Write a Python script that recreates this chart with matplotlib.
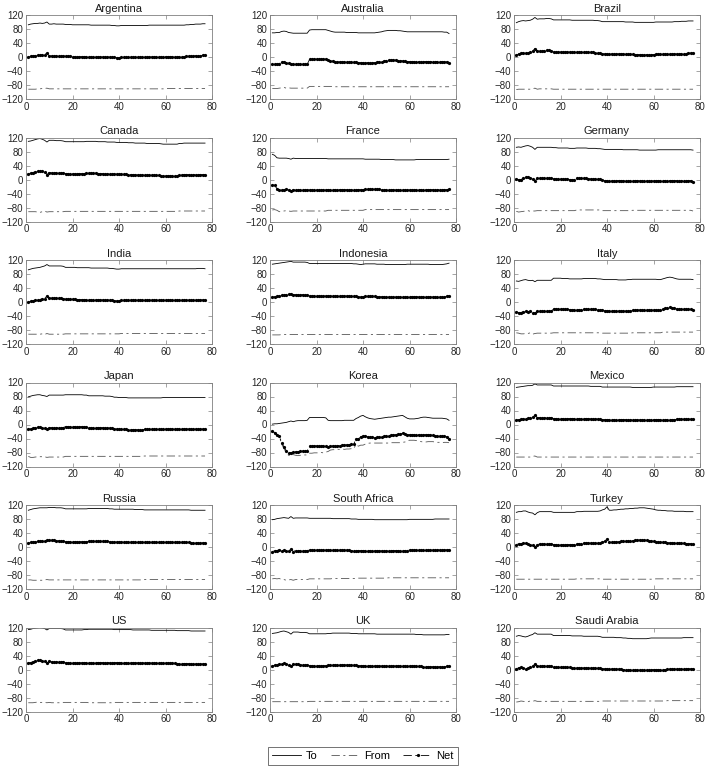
import numpy as np
import matplotlib
matplotlib.use("Agg")
import matplotlib.pyplot as plt
from matplotlib.lines import Line2D

plt.rcParams['font.family'] = ['Liberation Sans', 'DejaVu Sans']
plt.rcParams['lines.scale_dashes'] = False

countries = ["Argentina", "Australia", "Brazil", "Canada", "France", "Germany",
             "India", "Indonesia", "Italy", "Japan", "Korea", "Mexico",
             "Russia", "South Africa", "Turkey", "US", "UK", "Saudi Arabia"]
series_labels = ["To", "From", "Net"]
x_ticks = [0, 20, 40, 60, 80]
y_ticks = [-120, -80, -40, 0, 40, 80, 120]

# ---- data: "To" and "From" connectedness per period (Net = To + From) ----
ARG_TO = [92, 94, 95, 96, 96, 97, 96, 97, 100, 94,
          94, 95, 94, 94, 94, 94, 93, 93, 93, 92,
          92, 92, 92, 92, 92, 92, 92, 91, 91, 91,
          91, 91, 91, 91, 91, 91, 90, 90, 89, 89,
          90, 90, 90, 90, 90, 90, 90, 90, 90, 90,
          90, 90, 91, 91, 91, 91, 91, 91, 91, 91,
          91, 91, 91, 91, 91, 91, 91, 91, 92, 92,
          93, 93, 94, 94, 94, 95, 95]
ARG_FROM = [-92, -92, -92, -92, -91, -91, -90, -90, -89, -91,
            -91, -91, -91, -91, -91, -91, -91, -91, -91, -91,
            -91, -91, -91, -91, -91, -91, -91, -91, -91, -91,
            -91, -91, -91, -91, -91, -91, -91, -91, -91, -91,
            -91, -91, -91, -91, -91, -91, -91, -91, -91, -91,
            -91, -91, -91, -91, -91, -91, -91, -91, -91, -90,
            -90, -90, -90, -90, -90, -90, -90, -90, -90, -90,
            -90, -90, -90, -90, -90, -90, -90]

AUS_TO = [69, 69, 70, 70, 73, 74, 73, 70, 69, 68,
          68, 68, 68, 68, 68, 68, 77, 78, 78, 78,
          78, 78, 78, 78, 76, 74, 72, 71, 71, 71,
          71, 71, 70, 70, 70, 70, 70, 69, 69, 69,
          69, 69, 69, 69, 69, 70, 71, 72, 74, 75,
          76, 76, 76, 76, 75, 75, 74, 73, 72, 72,
          72, 72, 72, 72, 72, 72, 72, 72, 72, 72,
          72, 72, 72, 72, 71, 71, 67]
AUS_FROM = [-90, -90, -90, -89, -88, -87, -89, -88, -89, -89,
            -89, -89, -89, -89, -89, -89, -84, -84, -84, -84,
            -84, -84, -84, -84, -84, -84, -84, -85, -85, -85,
            -85, -85, -85, -85, -85, -85, -85, -85, -85, -85,
            -85, -85, -85, -85, -85, -85, -85, -85, -85, -85,
            -85, -85, -85, -85, -85, -85, -85, -85, -85, -85,
            -85, -85, -85, -85, -85, -85, -85, -85, -85, -85,
            -85, -85, -85, -85, -85, -85, -85]

BRA_TO = [98, 101, 103, 104, 103, 104, 105, 108, 113, 108,
          109, 109, 109, 110, 110, 109, 106, 106, 106, 106,
          106, 106, 106, 106, 105, 105, 105, 105, 105, 105,
          105, 105, 105, 105, 104, 104, 103, 101, 101, 101,
          101, 101, 101, 101, 101, 101, 101, 100, 100, 100,
          100, 99, 99, 99, 99, 99, 99, 99, 99, 99,
          100, 100, 100, 100, 100, 100, 100, 100, 101, 101,
          101, 102, 102, 102, 103, 103, 103]
BRA_FROM = [-93, -92, -92, -92, -92, -92, -92, -91, -89, -92,
            -91, -91, -91, -91, -91, -91, -92, -92, -92, -92,
            -92, -92, -92, -92, -92, -92, -92, -92, -92, -92,
            -92, -92, -92, -92, -92, -92, -92, -92, -92, -92,
            -92, -92, -92, -92, -92, -92, -92, -92, -92, -92,
            -92, -92, -92, -92, -92, -92, -92, -92, -92, -92,
            -92, -92, -92, -92, -92, -92, -92, -92, -92, -92,
            -92, -92, -92, -92, -92, -92, -92]

CAN_TO = [109, 110, 112, 114, 116, 117, 115, 112, 107, 112,
          112, 112, 111, 111, 111, 110, 108, 108, 108, 108,
          108, 108, 108, 108, 108, 109, 109, 109, 109, 109,
          108, 108, 108, 108, 107, 107, 107, 107, 106, 106,
          106, 106, 106, 105, 105, 105, 104, 104, 104, 104,
          104, 103, 103, 103, 103, 103, 103, 102, 101, 101,
          101, 101, 101, 101, 101, 103, 103, 104, 104, 104,
          104, 104, 104, 104, 104, 104, 104]
CAN_FROM = [-92, -92, -92, -92, -93, -94, -92, -90, -93, -92,
            -92, -92, -92, -92, -92, -92, -91, -91, -91, -91,
            -91, -91, -91, -91, -91, -91, -91, -91, -91, -91,
            -91, -91, -91, -91, -91, -91, -91, -91, -91, -91,
            -91, -91, -91, -91, -91, -91, -91, -91, -91, -91,
            -91, -91, -91, -91, -91, -91, -91, -91, -91, -91,
            -91, -91, -91, -91, -91, -90, -90, -90, -90, -90,
            -90, -90, -90, -90, -90, -90, -90]

FRA_TO = [72, 69, 62, 61, 61, 61, 61, 60, 58, 61,
          60, 60, 60, 60, 60, 60, 60, 60, 60, 60,
          60, 60, 60, 60, 59, 59, 59, 59, 59, 59,
          59, 59, 59, 59, 59, 59, 59, 59, 59, 59,
          58, 58, 58, 58, 58, 58, 58, 57, 57, 57,
          57, 57, 57, 56, 56, 56, 56, 56, 56, 56,
          56, 56, 57, 57, 57, 57, 57, 57, 57, 57,
          57, 57, 57, 57, 57, 57, 58]
FRA_FROM = [-87, -86, -88, -92, -91, -90, -89, -90, -91, -90,
            -90, -90, -90, -90, -90, -90, -90, -90, -90, -90,
            -90, -90, -90, -90, -88, -88, -88, -88, -88, -88,
            -88, -88, -88, -88, -88, -88, -88, -88, -88, -88,
            -86, -86, -86, -86, -86, -86, -86, -86, -86, -86,
            -86, -86, -86, -86, -86, -86, -86, -86, -86, -86,
            -86, -86, -86, -86, -86, -86, -86, -86, -86, -86,
            -86, -86, -86, -86, -86, -86, -86]

GER_TO = [92, 93, 92, 94, 96, 97, 95, 92, 86, 92,
          92, 92, 92, 92, 92, 92, 91, 91, 90, 90,
          90, 90, 90, 89, 89, 89, 90, 90, 90, 90,
          90, 89, 89, 89, 89, 88, 88, 87, 86, 86,
          86, 86, 86, 86, 86, 86, 85, 85, 85, 85,
          85, 85, 85, 84, 84, 84, 84, 84, 84, 84,
          84, 85, 85, 85, 85, 85, 85, 85, 85, 85,
          85, 85, 85, 85, 85, 85, 84]
GER_FROM = [-91, -93, -92, -91, -90, -89, -91, -90, -90, -89,
            -89, -89, -89, -89, -89, -89, -89, -89, -89, -89,
            -89, -89, -89, -89, -89, -89, -87, -87, -87, -87,
            -87, -87, -87, -87, -87, -87, -87, -89, -89, -89,
            -89, -89, -89, -89, -89, -89, -89, -89, -89, -89,
            -88, -88, -88, -88, -88, -88, -88, -88, -88, -88,
            -88, -88, -88, -88, -88, -88, -88, -88, -88, -88,
            -88, -88, -88, -88, -88, -88, -90]

IND_TO = [92, 94, 96, 97, 98, 99, 101, 103, 107, 103,
          103, 103, 103, 103, 103, 102, 99, 99, 99, 99,
          99, 98, 98, 98, 98, 98, 98, 97, 97, 97,
          97, 97, 97, 97, 97, 96, 96, 95, 94, 94,
          95, 95, 95, 95, 95, 95, 95, 95, 95, 95,
          95, 95, 95, 95, 95, 95, 95, 95, 95, 95,
          95, 95, 95, 95, 95, 95, 95, 95, 95, 95,
          95, 95, 95, 96, 96, 96, 95]
IND_FROM = [-92, -92, -92, -92, -92, -92, -91, -93, -90, -92,
            -92, -92, -92, -92, -92, -92, -91, -91, -91, -91,
            -91, -91, -91, -91, -91, -91, -91, -91, -91, -91,
            -91, -91, -91, -91, -91, -91, -91, -91, -91, -91,
            -90, -90, -90, -90, -90, -90, -90, -90, -90, -90,
            -90, -90, -90, -90, -90, -90, -90, -90, -90, -90,
            -90, -90, -90, -90, -90, -90, -90, -90, -90, -90,
            -90, -90, -90, -90, -90, -90, -90]

IDN_TO = [108, 109, 110, 111, 112, 113, 114, 115, 116, 114,
          114, 114, 114, 114, 114, 113, 110, 110, 110, 110,
          110, 110, 110, 110, 110, 110, 110, 110, 110, 110,
          110, 110, 110, 110, 110, 109, 109, 108, 107, 108,
          109, 109, 109, 109, 109, 108, 108, 108, 108, 107,
          107, 107, 107, 107, 107, 107, 107, 107, 108, 108,
          108, 108, 108, 108, 108, 108, 108, 108, 107, 107,
          107, 107, 107, 107, 108, 109, 111]
IDN_FROM = [-94, -94, -94, -94, -93, -93, -93, -93, -93, -93,
            -93, -93, -93, -93, -93, -93, -93, -93, -93, -93,
            -93, -93, -93, -93, -93, -93, -93, -93, -93, -93,
            -93, -93, -93, -93, -93, -93, -93, -93, -93, -93,
            -93, -93, -93, -93, -93, -93, -93, -93, -93, -93,
            -93, -93, -93, -93, -93, -93, -93, -93, -93, -93,
            -93, -93, -93, -93, -93, -93, -93, -93, -93, -93,
            -93, -93, -93, -93, -93, -93, -93]

ITA_TO = [60, 59, 61, 63, 64, 62, 61, 62, 58, 62,
          62, 62, 62, 62, 62, 62, 68, 68, 68, 68,
          67, 67, 67, 66, 66, 66, 66, 66, 66, 67,
          67, 67, 67, 67, 67, 66, 66, 65, 64, 64,
          64, 64, 64, 64, 63, 63, 63, 63, 64, 64,
          65, 65, 65, 65, 65, 65, 65, 65, 65, 65,
          65, 64, 64, 66, 68, 70, 71, 70, 68, 66,
          65, 65, 65, 65, 65, 65, 64]
ITA_FROM = [-88, -89, -91, -91, -90, -90, -88, -92, -90, -89,
            -89, -89, -89, -89, -89, -89, -88, -88, -88, -88,
            -88, -88, -88, -88, -88, -88, -88, -88, -88, -88,
            -88, -88, -88, -88, -88, -88, -88, -89, -89, -89,
            -89, -89, -89, -89, -89, -89, -89, -89, -89, -89,
            -88, -88, -88, -88, -88, -88, -88, -88, -88, -88,
            -88, -88, -88, -86, -86, -86, -86, -86, -86, -86,
            -86, -86, -86, -86, -86, -86, -86]

JPN_TO = [79, 81, 83, 84, 85, 85, 83, 82, 80, 84,
          84, 84, 84, 84, 84, 84, 85, 85, 85, 85,
          85, 85, 85, 85, 84, 84, 82, 82, 82, 82,
          82, 82, 82, 81, 81, 81, 80, 78, 78, 77,
          77, 77, 77, 76, 76, 76, 76, 76, 76, 76,
          76, 76, 76, 76, 76, 76, 76, 76, 77, 77,
          77, 77, 77, 77, 77, 77, 77, 77, 77, 77,
          77, 77, 77, 77, 77, 77, 77]
JPN_FROM = [-91, -94, -94, -93, -92, -92, -92, -92, -94, -93,
            -93, -93, -93, -93, -93, -93, -91, -91, -91, -91,
            -91, -91, -91, -91, -91, -91, -91, -91, -91, -91,
            -91, -91, -91, -91, -91, -91, -91, -91, -91, -91,
            -91, -91, -91, -91, -91, -91, -91, -91, -91, -91,
            -90, -90, -90, -90, -90, -90, -90, -90, -90, -90,
            -90, -90, -90, -90, -90, -90, -90, -90, -90, -90,
            -90, -90, -90, -90, -90, -90, -90]

KOR_TO = [1, 2, 2, 3, 4, 5, 6, 8, 10, 8,
          10, 11, 11, 11, 11, 12, 20, 20, 20, 20,
          20, 20, 20, 19, 12, 11, 11, 11, 11, 11,
          11, 12, 12, 12, 12, 12, 17, 20, 24, 26,
          22, 19, 17, 16, 15, 16, 17, 18, 19, 20,
          21, 21, 22, 23, 24, 25, 26, 22, 18, 16,
          16, 16, 17, 18, 20, 21, 21, 20, 19, 18,
          18, 18, 18, 18, 17, 16, 12]
KOR_FROM = [-19, -25, -33, -35, -56, -69, -81, -88, -90, -86,
            -88, -89, -88, -87, -87, -87, -82, -82, -81, -81,
            -81, -80, -81, -79, -77, -73, -72, -72, -71, -71,
            -70, -71, -70, -70, -69, -69, -57, -62, -59, -59,
            -56, -54, -53, -53, -53, -53, -53, -53, -53, -53,
            -53, -52, -52, -52, -52, -52, -51, -50, -47, -45,
            -45, -45, -46, -47, -49, -50, -50, -49, -49, -49,
            -50, -51, -51, -52, -51, -51, -52]

MEX_TO = [106, 107, 108, 109, 110, 111, 111, 112, 116, 113,
          113, 113, 113, 113, 113, 113, 110, 110, 110, 110,
          110, 110, 110, 110, 110, 110, 110, 110, 110, 110,
          110, 110, 109, 109, 109, 109, 109, 107, 107, 107,
          107, 107, 107, 107, 107, 107, 107, 107, 107, 107,
          106, 106, 106, 106, 106, 106, 106, 106, 106, 107,
          107, 107, 107, 107, 107, 107, 107, 107, 107, 108,
          108, 108, 108, 108, 108, 108, 108]
MEX_FROM = [-93, -93, -93, -93, -93, -93, -93, -91, -90, -93,
            -93, -93, -93, -93, -93, -93, -93, -93, -93, -93,
            -93, -93, -93, -93, -93, -93, -93, -93, -93, -93,
            -93, -93, -93, -93, -93, -93, -93, -93, -93, -93,
            -93, -93, -93, -93, -93, -93, -93, -93, -93, -93,
            -93, -93, -93, -93, -93, -93, -93, -93, -93, -93,
            -93, -93, -93, -93, -93, -93, -93, -93, -93, -93,
            -93, -93, -93, -93, -93, -93, -93]

RUS_TO = [105, 107, 109, 110, 111, 112, 112, 112, 112, 113,
          113, 113, 112, 112, 112, 111, 109, 109, 109, 109,
          109, 109, 109, 109, 109, 109, 110, 110, 110, 110,
          110, 110, 110, 110, 110, 109, 109, 108, 108, 108,
          108, 108, 108, 108, 108, 108, 107, 107, 107, 107,
          106, 106, 106, 106, 106, 106, 106, 106, 106, 106,
          106, 106, 106, 106, 106, 106, 106, 106, 106, 106,
          105, 105, 105, 105, 105, 105, 105]
RUS_FROM = [-94, -94, -95, -95, -95, -95, -95, -94, -93, -94,
            -94, -94, -94, -94, -94, -94, -94, -94, -94, -94,
            -94, -94, -94, -94, -94, -94, -94, -94, -94, -94,
            -94, -94, -94, -94, -94, -94, -94, -94, -94, -94,
            -94, -94, -94, -94, -94, -94, -94, -94, -94, -94,
            -93, -93, -93, -93, -93, -93, -93, -93, -93, -93,
            -93, -93, -93, -93, -93, -93, -93, -93, -93, -93,
            -93, -93, -93, -93, -93, -93, -93]

ZAF_TO = [78, 79, 81, 82, 83, 84, 83, 82, 87, 82,
          83, 83, 83, 83, 83, 83, 82, 82, 82, 82,
          82, 82, 82, 82, 82, 82, 81, 81, 81, 81,
          81, 81, 81, 81, 80, 80, 80, 79, 79, 79,
          79, 79, 79, 79, 78, 78, 78, 78, 78, 78,
          78, 78, 78, 78, 78, 78, 78, 78, 78, 79,
          79, 79, 79, 79, 79, 79, 79, 79, 79, 79,
          80, 80, 80, 80, 80, 80, 80]
ZAF_FROM = [-91, -90, -91, -90, -93, -93, -95, -94, -93, -95,
            -93, -93, -93, -93, -93, -93, -91, -91, -91, -91,
            -91, -91, -91, -91, -91, -91, -90, -90, -90, -90,
            -90, -90, -90, -90, -90, -90, -90, -89, -89, -89,
            -89, -89, -89, -89, -89, -89, -89, -89, -89, -89,
            -88, -88, -88, -88, -88, -88, -88, -88, -88, -88,
            -88, -88, -88, -88, -88, -88, -88, -88, -88, -88,
            -88, -88, -88, -88, -88, -88, -88]

TUR_TO = [99, 101, 101, 103, 103, 100, 98, 97, 92, 98,
          101, 101, 101, 101, 101, 101, 99, 99, 99, 99,
          99, 99, 99, 99, 99, 99, 101, 101, 101, 102,
          102, 102, 102, 102, 102, 102, 103, 106, 108, 115,
          105, 105, 106, 106, 107, 108, 108, 109, 109, 110,
          110, 111, 111, 112, 112, 112, 111, 110, 109, 108,
          106, 105, 105, 104, 104, 103, 103, 103, 102, 102,
          102, 102, 102, 101, 101, 101, 101]
TUR_FROM = [-92, -92, -92, -92, -92, -92, -92, -92, -92, -92,
            -92, -92, -92, -92, -92, -92, -92, -92, -92, -92,
            -92, -92, -92, -92, -92, -92, -91, -91, -91, -91,
            -91, -91, -91, -91, -91, -91, -91, -92, -92, -92,
            -92, -92, -92, -92, -92, -92, -92, -92, -92, -92,
            -92, -92, -92, -92, -92, -92, -92, -92, -92, -92,
            -91, -91, -91, -91, -91, -91, -91, -91, -91, -91,
            -91, -91, -91, -91, -91, -91, -91]

USA_TO = [114, 115, 117, 118, 119, 120, 119, 117, 113, 117,
          117, 117, 117, 117, 117, 116, 113, 113, 113, 113,
          113, 113, 113, 113, 114, 114, 115, 115, 115, 115,
          115, 115, 115, 115, 115, 115, 115, 114, 114, 114,
          114, 114, 114, 114, 114, 113, 113, 113, 113, 113,
          113, 113, 113, 112, 112, 112, 112, 112, 112, 112,
          112, 112, 112, 112, 111, 111, 111, 111, 111, 111,
          110, 110, 110, 110, 110, 110, 110]
USA_FROM = [-95, -95, -95, -94, -93, -94, -94, -94, -95, -94,
            -95, -95, -95, -95, -95, -94, -94, -94, -94, -94,
            -94, -94, -94, -94, -94, -94, -95, -95, -95, -95,
            -95, -95, -95, -95, -95, -95, -95, -94, -94, -94,
            -94, -94, -94, -94, -94, -94, -94, -94, -94, -94,
            -94, -94, -94, -94, -94, -94, -94, -94, -94, -94,
            -94, -94, -94, -94, -94, -94, -94, -94, -94, -94,
            -94, -94, -94, -94, -94, -94, -94]

GBR_TO = [103, 104, 105, 107, 109, 110, 108, 106, 101, 107,
          107, 107, 106, 106, 106, 105, 102, 102, 102, 102,
          102, 102, 102, 102, 103, 103, 104, 104, 104, 104,
          104, 104, 104, 104, 103, 103, 103, 102, 102, 102,
          102, 102, 102, 102, 102, 101, 101, 101, 101, 101,
          101, 101, 101, 101, 101, 101, 101, 101, 101, 101,
          101, 101, 100, 100, 100, 99, 99, 99, 99, 99,
          99, 99, 99, 99, 99, 100, 100]
GBR_FROM = [-92, -92, -92, -92, -92, -92, -92, -92, -92, -92,
            -92, -92, -92, -92, -92, -92, -91, -91, -91, -91,
            -91, -91, -91, -91, -91, -91, -91, -91, -91, -91,
            -91, -91, -91, -91, -91, -91, -91, -91, -91, -91,
            -91, -91, -91, -91, -91, -91, -91, -91, -91, -91,
            -91, -91, -91, -91, -91, -91, -91, -91, -91, -91,
            -91, -91, -91, -91, -91, -91, -91, -91, -91, -91,
            -91, -91, -91, -91, -91, -91, -91]

SAU_TO = [95, 97, 96, 94, 93, 95, 98, 100, 105, 101,
          101, 101, 101, 101, 101, 101, 97, 97, 97, 97,
          97, 97, 97, 97, 96, 96, 96, 96, 96, 95,
          95, 95, 95, 95, 95, 95, 94, 92, 92, 92,
          92, 92, 92, 91, 91, 91, 90, 90, 89, 89,
          88, 88, 88, 88, 88, 88, 88, 89, 90, 90,
          90, 90, 90, 90, 90, 90, 90, 90, 90, 90,
          90, 90, 91, 91, 91, 91, 91]
SAU_FROM = [-93, -92, -90, -91, -92, -92, -90, -91, -89, -91,
            -91, -91, -91, -91, -91, -91, -91, -91, -91, -91,
            -91, -91, -91, -91, -91, -91, -91, -91, -91, -91,
            -91, -91, -91, -91, -91, -91, -91, -90, -90, -90,
            -90, -90, -90, -90, -90, -90, -90, -90, -90, -90,
            -90, -90, -90, -90, -90, -90, -90, -90, -90, -90,
            -90, -90, -90, -90, -90, -89, -89, -89, -89, -89,
            -89, -89, -89, -89, -89, -89, -89]

to_series = [ARG_TO, AUS_TO, BRA_TO, CAN_TO, FRA_TO, GER_TO, IND_TO, IDN_TO, ITA_TO,
             JPN_TO, KOR_TO, MEX_TO, RUS_TO, ZAF_TO, TUR_TO, USA_TO, GBR_TO, SAU_TO]
from_series = [ARG_FROM, AUS_FROM, BRA_FROM, CAN_FROM, FRA_FROM, GER_FROM, IND_FROM,
               IDN_FROM, ITA_FROM, JPN_FROM, KOR_FROM, MEX_FROM, RUS_FROM, ZAF_FROM,
               TUR_FROM, USA_FROM, GBR_FROM, SAU_FROM]

# ---- layout ----
W, H = 708, 767
fig = plt.figure(figsize=(W / 100, H / 100), dpi=100)
lefts = [26, 270, 514]
aw, ah = 186, 84
tops = [15 + 122.5 * r for r in range(6)]

DASHDOT = (0, (6, 2.5, 1.5, 2.5))
to_style = dict(color='black', lw=0.6, ls='-')
from_style = dict(color='#555555', lw=0.6, ls=DASHDOT)
net_style = dict(color='black', lw=0.6, ls=DASHDOT, marker='.', ms=2.6)

for i, name in enumerate(countries):
    r, c = divmod(i, 3)
    ax = fig.add_axes([lefts[c] / W, 1 - (tops[r] + ah) / H, aw / W, ah / H])
    to = np.array(to_series[i], dtype=float)
    fr = np.array(from_series[i], dtype=float)
    net = to + fr
    t = np.arange(1, len(to) + 1)
    ax.plot(t, to, **to_style)
    ax.plot(t, fr, **from_style)
    ax.plot(t, net, **net_style)
    ax.set_xlim(0, 80)
    ax.set_ylim(-120, 120)
    ax.set_xticks(x_ticks)
    ax.set_yticks(y_ticks)
    ax.tick_params(direction='in', length=3, width=0.5, top=True, right=True,
                   labelsize=7, color='#808080', labelcolor='#262626', pad=2)
    for s in ax.spines.values():
        s.set_color('#808080')
        s.set_linewidth(0.6)
    ax.set_title(name, fontsize=8, pad=2.5, color='#1a1a1a')

handles = [Line2D([], [], **to_style), Line2D([], [], **from_style),
           Line2D([], [], **net_style)]
leg = fig.legend(handles, series_labels, loc='center', ncol=3,
                 bbox_to_anchor=(363 / W, 1 - 756 / H), fontsize=8,
                 frameon=True, fancybox=False, edgecolor='#333333',
                 handlelength=2.6, handletextpad=0.4, columnspacing=1.2,
                 borderpad=0.4, numpoints=1)
leg.get_frame().set_linewidth(0.6)

fig.savefig("out.png", dpi=100)
